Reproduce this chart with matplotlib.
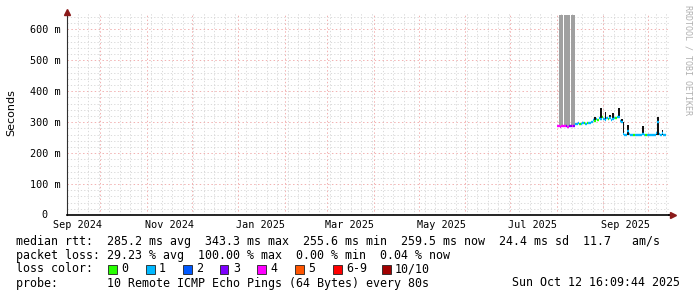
import numpy as np
import pandas as pd
import matplotlib
matplotlib.use('Agg')
import matplotlib.pyplot as plt
import matplotlib.dates as mdates
from matplotlib.patches import Rectangle


# data (one value per day, starting 2025-08-01)
# ---------------------------------------------------------------------------------------
day0 = "2025-08-01"
median_ms = [287, 287, 286, 287, 288, 287, 287, 286, 287, 287, 288, 287,
             294, 295, 296, 295, 294, 296, 297, 295, 296, 297, 298,
             302, 306, 305, 310, 308, 312, 309, 318, 311, 306, 313, 309, 315,
             307, 310, 314, 312, 318, 316, 305, 300,
             262, 260, 259, 270, 262, 258, 257, 258, 259, 257, 258, 260, 258,
             262, 259, 258, 257, 259, 258, 260, 259, 258, 265, 300, 262, 258,
             266, 259, 258]
loss = [4, 4, 4, 4, 4, 4, 3, 4, 3, 3, 4, 3,
        1, 1, 1, 0, 1, 1, 0, 1, 0, 1, 1,
        1, 1, 0, 1, 0, 1, 1, 0, 1, 1, 1, 0, 1, 1, 1, 1, 0, 1, 1, 1, 1,
        1, 1, 1, 1, 1, 1, 1, 0, 1, 1, 1, 1, 1, 1, 1, 0, 1, 1, 1, 1, 1, 1,
        1, 1, 1, 1, 1, 1, 1]
smoke_hi = [290, 290, 289, 290, 291, 290, 290, 289, 290, 290, 291, 290,
            297, 298, 299, 298, 297, 299, 300, 298, 299, 300, 301,
            305, 309, 318, 313, 311, 315, 345, 321, 314, 332, 316, 312, 322,
            310, 330, 317, 315, 321, 346, 308, 310,
            300, 263, 262, 290, 265, 261, 260, 261, 262, 260, 261, 263, 261,
            287, 262, 261, 260, 262, 261, 263, 262, 261, 268, 318, 265, 261,
            276, 262, 261]
smoke_lo = [284, 284, 283, 284, 285, 284, 284, 283, 284, 284, 285, 284,
            291, 292, 293, 292, 291, 293, 294, 292, 293, 294, 295,
            299, 303, 302, 307, 305, 309, 306, 315, 308, 303, 310, 306, 312,
            304, 307, 311, 309, 315, 313, 302, 297,
            259, 257, 256, 258, 259, 255, 254, 255, 256, 254, 255, 257, 255,
            259, 256, 255, 254, 256, 255, 257, 256, 255, 258, 260, 259, 255,
            258, 256, 255]
# tall grey smoke blocks (days after day0)
grey_start = [1.5, 4.9, 9.3]
grey_end = [4.2, 8.6, 12.2]
grey_lo = [289, 289, 289]
grey_hi = [645, 645, 645]

loss_labels = ['0', '1', '2', '3', '4', '5', '6-9', '10/10']
loss_colors = ['#26ff00', '#00b8ff', '#0059ff', '#7e00ff', '#ff00ff',
               '#ff5500', '#ff0000', '#a10000']
loss_index = {0: 0, 1: 1, 2: 2, 3: 3, 4: 4, 5: 5, 6: 6, 7: 6, 8: 6, 9: 6, 10: 7}

y_ticks = [0, 100, 200, 300, 400, 500, 600]
y_labels = ['0', '100 m', '200 m', '300 m', '400 m', '500 m', '600 m']
x_label_dates = ['2024-09-16', '2024-11-16', '2025-01-16', '2025-03-16',
                 '2025-05-16', '2025-07-16', '2025-09-16']
x_labels = ['Sep 2024', 'Nov 2024', 'Jan 2025', 'Mar 2025', 'May 2025',
            'Jul 2025', 'Sep 2025']

legend_rows = [
    "median rtt:  285.2 ms avg  343.3 ms max  255.6 ms min  259.5 ms now  24.4 ms sd  11.7   am/s",
    "packet loss: 29.23 % avg  100.00 % max  0.00 % min  0.04 % now",
    "loss color:",
    "probe:       10 Remote ICMP Echo Pings (64 Bytes) every 80s",
]
stamp = "Sun Oct 12 16:09:44 2025"

# figure
# ---------------------------------------------------------------------------------------
W, H = 697, 297
MONO = 'DejaVu Sans Mono'
fig = plt.figure(figsize=(W / 100, H / 100), dpi=100)
fig.patch.set_facecolor('white')
ax = fig.add_axes([67 / W, (H - 215) / H, 602 / W, 202 / H])

x0 = mdates.date2num(pd.Timestamp('2024-09-09'))
x1 = mdates.date2num(pd.Timestamp('2025-10-14 16:00'))
ax.set_xlim(x0, x1)
ax.set_ylim(0, 653)

# grid
dot = (0, (1.5, 2.5))
minor_c = '#d4d4d4'
major_c = '#f2b0b0'
for v in range(20, 653, 20):
    if v % 100:
        ax.axhline(v, color=minor_c, lw=0.6, ls=dot, zorder=0)
for v in y_ticks[1:]:
    ax.axhline(v, color=major_c, lw=0.7, ls=dot, zorder=0)
mondays = pd.date_range('2024-09-09', '2025-10-14', freq='W-MON')
for d in mondays:
    ax.axvline(mdates.date2num(d), color=minor_c, lw=0.6, ls=dot, zorder=0)
months = pd.date_range('2024-10-01', '2025-10-14', freq='MS')
for d in months:
    ax.axvline(mdates.date2num(d), color=major_c, lw=0.7, ls=dot, zorder=0)

# smoke
days = mdates.date2num(pd.date_range(day0, periods=len(median_ms), freq='D'))
base = mdates.date2num(pd.Timestamp(day0))
for s, e, lo, hi in zip(grey_start, grey_end, grey_lo, grey_hi):
    ax.add_patch(Rectangle((base + s, lo), e - s, hi - lo,
                           facecolor='#a0a0a0', edgecolor='none', zorder=2))
lo_arr = np.array(smoke_lo)
hi_arr = np.array(smoke_hi)
ax.bar(days, hi_arr - lo_arr, bottom=lo_arr, width=0.75, align='edge',
       color='#111111', edgecolor='none', zorder=3)

# median line coloured by loss
for d, m, l in zip(days, median_ms, loss):
    ax.hlines(m, d, d + 1, colors=loss_colors[loss_index[l]], lw=1.7, zorder=4)

# axes look
for s in ['top', 'right']:
    ax.spines[s].set_visible(False)
ax.spines['left'].set_color('#303030')
ax.spines['bottom'].set_color('#000000')
ax.spines['bottom'].set_linewidth(1.2)
ax.set_xticks([])
ax.set_yticks([])
ax.plot([1.0, 1.006], [0, 0], transform=ax.transAxes, color='black', lw=1.2,
        clip_on=False)
ax.plot([0], [1.005], marker='^', ms=5, color='#8b1a1a', transform=ax.transAxes,
        clip_on=False, zorder=6)
ax.plot([1.006], [0], marker='>', ms=5, color='#8b1a1a', transform=ax.transAxes,
        clip_on=False, zorder=6)

# tick labels
for v, lab in zip(y_ticks, y_labels):
    px = 61 if lab.endswith('m') else 47
    fig.text(px / W, ax.transData.transform((x0, v))[1] / H - 0.5 / H, lab,
             ha='right', va='center', fontsize=7.3, family=MONO)
for dt, lab in zip(x_label_dates, x_labels):
    xd = mdates.date2num(pd.Timestamp(dt))
    xf = ax.transData.transform((xd, 0))[0] / W
    fig.text(xf, 1 - 225 / H, lab, ha='center', va='center', fontsize=7.3,
             family=MONO)

fig.text(11 / W, 1 - 113 / H, 'Seconds', rotation=90, ha='center',
         va='center', fontsize=8, family='DejaVu Sans')
fig.text(688 / W, 1 - 5 / H, 'RRDTOOL / TOBI OETIKER', rotation=270,
         ha='center', va='top', fontsize=6, family=MONO, color='#b0b0b0')

# legend
row_y = [241, 255, 269, 283]
for y, t in zip(row_y, legend_rows):
    fig.text(16 / W, 1 - y / H, t, ha='left', va='center', fontsize=8.4,
             family=MONO)
fig.text(512 / W, 1 - 283 / H, stamp, ha='left', va='center', fontsize=8.4,
         family=MONO)

box_x = [108, 146, 183, 220, 257, 295, 333, 382]
for bx, lab, col in zip(box_x, loss_labels, loss_colors):
    fig.add_artist(Rectangle((bx / W, 1 - 273.5 / H), 8.5 / W, 8.5 / H,
                             facecolor=col, edgecolor='#202020', lw=0.6,
                             transform=fig.transFigure))
    fig.text((bx + 13) / W, 1 - 269 / H, lab, ha='left', va='center',
             fontsize=8.4, family=MONO)

fig.savefig('out.png', dpi=100)
